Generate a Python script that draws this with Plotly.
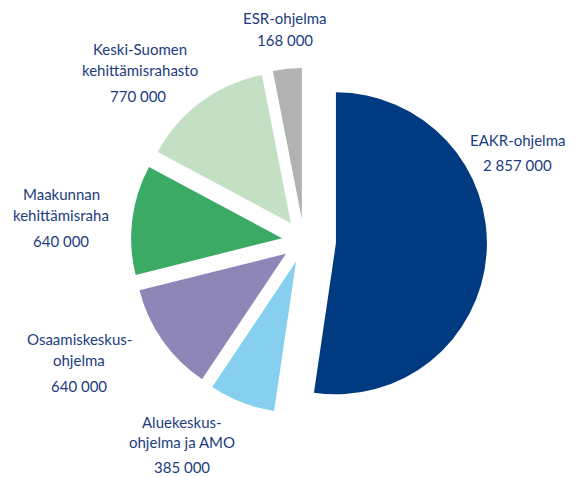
import plotly.graph_objects as go

# Data
programs = ["EAKR-ohjelma", "Aluekeskus-ohjelma ja AMO", "Osaamiskeskus-ohjelma",
            "Maakunnan kehittämisraha", "Keski-Suomen kehittämisrahasto", "ESR-ohjelma"]
label_lines = [["EAKR-ohjelma"], ["Aluekeskus-", "ohjelma ja AMO"], ["Osaamiskeskus-", "ohjelma"],
               ["Maakunnan", "kehittämisraha"], ["Keski-Suomen", "kehittämisrahasto"], ["ESR-ohjelma"]]
amounts = [2857000, 385000, 640000, 640000, 770000, 168000]
amount_labels = ["2 857 000", "385 000", "640 000", "640 000", "770 000", "168 000"]

colors = ["#003a80", "#87cfee", "#8f86b8", "#3aaa64", "#c3e0c5", "#b1b2b4"]
pulls = [0.212, 0.146, 0.146, 0.146, 0.146, 0.146]

OFF = 8                      # page body margin
W, H = 576 - OFF, 477 - OFF
cx, cy = 304 - OFF, 241 - OFF   # pixel centre of pie box (figure coords)
half = 183                   # half size of pie box in px

fig = go.Figure(go.Pie(
    labels=programs, values=amounts, sort=False, direction="clockwise",
    rotation=0, pull=pulls, textinfo="none", showlegend=False,
    marker=dict(colors=colors, line=dict(width=0)),
    domain=dict(x=[(cx - half) / W, (cx + half) / W],
                y=[(H - cy - half) / H, (H - cy + half) / H]),
))

text_color = "#1b3d80"
font = dict(family="Lato, 'Open Sans', sans-serif", size=15, color=text_color)

# label positions in page pixels: x centre, y of each name line, y of value
label_x = [517, 182, 79, 61, 140, 285]
value_x = [517, 182, 79, 61, 138, 285]
line_y = [[140], [422, 442], [339, 360], [194, 215], [49, 70], [18]]
value_y = [165, 467, 386, 241, 96, 40]


def px_to_paper(x, y):
    return (x - OFF) / W, 1 - (y - OFF) / H


annotations = []
for i in range(len(programs)):
    for txt, ly in zip(label_lines[i], line_y[i]):
        ax, ay = px_to_paper(label_x[i], ly)
        annotations.append(dict(x=ax, y=ay, xref="paper", yref="paper",
                                text=txt, showarrow=False, font=font,
                                xanchor="center", yanchor="middle"))
    ax, ay = px_to_paper(value_x[i], value_y[i])
    annotations.append(dict(x=ax, y=ay, xref="paper", yref="paper",
                            text=amount_labels[i], showarrow=False, font=font,
                            xanchor="center", yanchor="middle"))

fig.update_layout(width=W, height=H, margin=dict(l=0, r=0, t=0, b=0),
                  paper_bgcolor="white", plot_bgcolor="white",
                  annotations=annotations)

fig.write_html("out.html")
